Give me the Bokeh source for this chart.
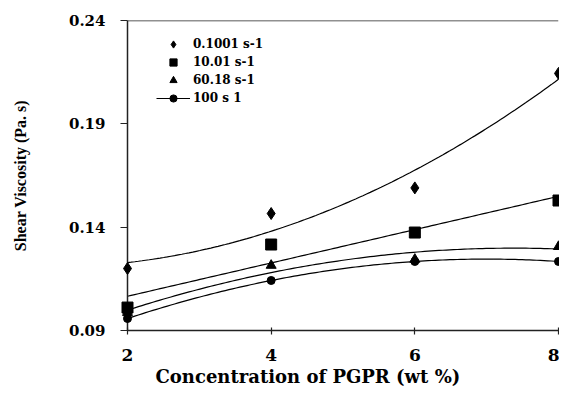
import numpy as np
from bokeh.plotting import figure
from bokeh.models import Range1d, FixedTicker, Span, Legend, LegendItem, Title
from bokeh.embed import file_html
from bokeh.resources import INLINE

conc = [2, 4, 6, 8]
s_0_1001 = [0.120, 0.1466, 0.159, 0.2144]
s_10_01 = [0.1011, 0.1316, 0.1374, 0.1529]
s_60_18 = [0.0987, 0.1215, 0.1244, 0.1306]
s_100 = [0.0958, 0.1142, 0.1234, 0.1234]
labels = ["0.1001 s-1", "10.01 s-1", "60.18 s-1", "100 s 1"]
y_ticks = [0.09, 0.14, 0.19, 0.24]
x_ticks = [2, 4, 6, 8]
x_title = "Concentration of PGPR (wt %)"
y_title = "Shear Viscosity (Pa. s)"

series = [s_0_1001, s_10_01, s_60_18, s_100]
fit_degree = [2, 1, 2, 2]
markers = ["diamond", "square", "triangle", "circle"]
sizes = [12, 11, 10, 8]

FONT = "DejaVu Serif"

p = figure(frame_width=431, frame_height=310, output_backend="svg",
           toolbar_location=None, x_range=Range1d(2, 8), y_range=Range1d(0.09, 0.24),
           min_border_left=127, min_border_right=1, min_border_top=20, min_border_bottom=0)
p.outline_line_color = None
p.grid.visible = False
p.background_fill_color = "white"

for ax in (p.xaxis[0], p.yaxis[0]):
    ax.axis_line_width = 1.5
    ax.axis_line_color = "#222222"
    ax.major_tick_line_color = "#222222"
    ax.major_tick_line_width = 1.2
    ax.minor_tick_line_color = None
    ax.major_label_text_font = FONT
    ax.major_label_text_font_style = "bold"
    ax.major_label_text_color = "black"

p.xaxis.ticker = FixedTicker(ticks=x_ticks)
p.yaxis.ticker = FixedTicker(ticks=y_ticks)
p.yaxis.formatter.use_scientific = False
p.xaxis.major_label_text_font_size = "17px"
p.yaxis.major_label_text_font_size = "15px"
p.xaxis.major_tick_in = 3
p.xaxis.major_tick_out = 4
p.yaxis.major_tick_in = 0
p.yaxis.major_tick_out = 7
p.xaxis.major_label_standoff = 14
p.yaxis.major_label_standoff = 15

p.yaxis.axis_label = y_title
p.yaxis.axis_label_text_font = "Liberation Serif"
p.yaxis.axis_label_text_font_style = "bold"
p.yaxis.axis_label_text_font_size = "16px"
p.yaxis.axis_label_text_color = "black"
p.yaxis.axis_label_standoff = 37

p.add_layout(Title(text=x_title, align="left", offset=28, standoff=0,
                   text_font=FONT, text_font_style="bold", text_font_size="18px",
                   text_color="black"), "below")

p.add_layout(Span(location=0.24, dimension="width", line_color="#222222", line_width=1.5))

xs = np.linspace(2, 8, 120)
items = []
for vals, deg, mk, sz, lab in zip(series, fit_degree, markers, sizes, labels):
    coef = np.polyfit(conc, vals, deg)
    ln = p.line(xs, np.polyval(coef, xs), line_color="black", line_width=1.2)
    sc = p.scatter(conc, vals, marker=mk, size=sz, fill_color="black", line_color="black",
                   level="overlay")
    if mk == "circle":
        items.append(LegendItem(label=lab, renderers=[ln, sc]))
    else:
        items.append(LegendItem(label=lab, renderers=[sc]))

legend = Legend(items=items, location=(29, 223), glyph_width=34, glyph_height=18,
                label_height=18, spacing=0, padding=0, margin=0, label_standoff=3,
                border_line_color=None, background_fill_alpha=0,
                label_text_font=FONT, label_text_font_style="bold",
                label_text_font_size="12px", label_text_color="black")
p.add_layout(legend, "center")

open("out.html", "w").write(file_html(p, INLINE))
